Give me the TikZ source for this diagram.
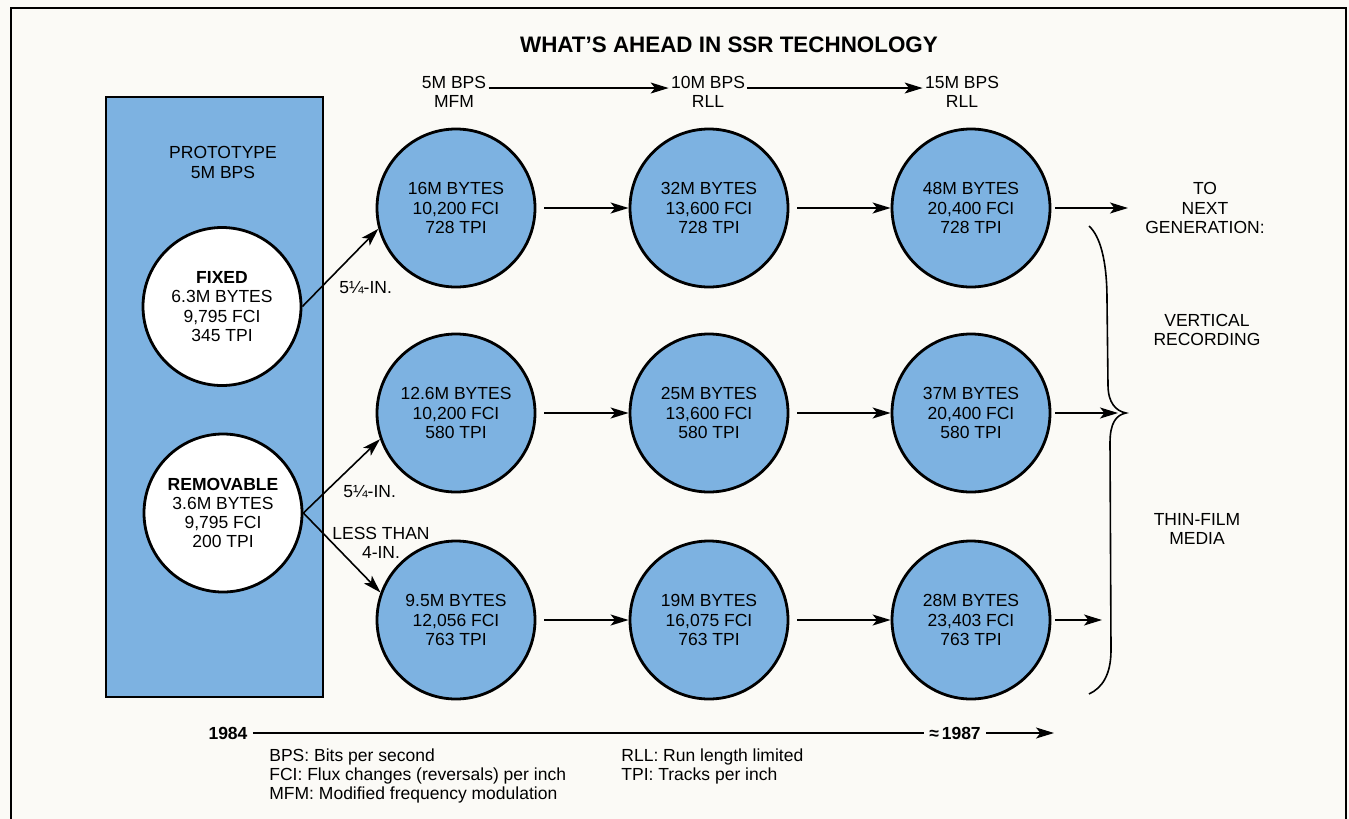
\documentclass[tikz,border=0pt]{standalone}
\usepackage{fontspec}
\setmainfont{Liberation Sans}
\usetikzlibrary{arrows.meta}
\definecolor{diskblue}{RGB}{125,178,225}
\definecolor{paper}{RGB}{251,250,246}
\begin{document}
\begin{tikzpicture}[x=0.5pt,y=-0.5pt,
  txt/.style={font=\fontsize{8.75}{9.65}\selectfont, align=center, inner sep=1pt},
  disk/.style={circle, draw, line width=1.4pt, fill=diskblue, minimum size=79pt, inner sep=0pt, txt},
  wdisk/.style={disk, fill=white},
  arr/.style={-{Stealth[length=9pt,width=5.5pt,inset=2.2pt]}, line width=0.8pt},
  boldtxt/.style={txt, font=\bfseries\fontsize{8.75}{9.65}\selectfont}]
\useasboundingbox (0,0) rectangle (1349,819);
\fill[paper] (0,0) rectangle (1349,819);
% frame
\draw[line width=1pt] (11,819) -- (11,8) -- (1346,8) -- (1346,819);
% title
\node[font=\bfseries\fontsize{11.2}{13}\selectfont] (title) at (729,45) {WHAT’S AHEAD IN SSR TECHNOLOGY};
% column headings
\node[txt] (h1) at (454,82) {5M BPS};
\node[txt] (h1b) at (454,101) {MFM};
\node[txt] (h2) at (708,82) {10M BPS};
\node[txt] (h2b) at (708,101) {RLL};
\node[txt] (h3) at (962,82) {15M BPS};
\node[txt] (h3b) at (962,101) {RLL};
\draw[arr] (h1.base east) -- (h2.base west);
\draw[arr] (h2.base east) -- (h3.base west);
% prototype box
\node[draw, fill=diskblue, line width=1pt, minimum width=108.5pt, minimum height=300pt, anchor=north west, inner sep=0pt] (proto) at (105,96) {};
\node[txt] (protolbl) at (223,162.5) {PROTOTYPE\\5M BPS};
\node[wdisk] (fixed) at (222,306.5) {\textbf{FIXED}\\6.3M BYTES\\9,795 FCI\\345 TPI};
\node[wdisk] (removable) at (223,513) {\textbf{REMOVABLE}\\3.6M BYTES\\9,795 FCI\\200 TPI};
% disks
\node[disk] (c11) at (456,208) {16M BYTES\\10,200 FCI\\728 TPI};
\node[disk] (c12) at (456,413) {12.6M BYTES\\10,200 FCI\\580 TPI};
\node[disk] (c13) at (456,620) {9.5M BYTES\\12,056 FCI\\763 TPI};
\node[disk] (c21) at (709,208) {32M BYTES\\13,600 FCI\\728 TPI};
\node[disk] (c22) at (709,413) {25M BYTES\\13,600 FCI\\580 TPI};
\node[disk] (c23) at (709,620) {19M BYTES\\16,075 FCI\\763 TPI};
\node[disk] (c31) at (971,208) {48M BYTES\\20,400 FCI\\728 TPI};
\node[disk] (c32) at (971,413) {37M BYTES\\20,400 FCI\\580 TPI};
\node[disk] (c33) at (971,620) {28M BYTES\\23,403 FCI\\763 TPI};
% horizontal arrows
\foreach \a/\b in {c11/c21,c21/c31,c12/c22,c22/c32,c13/c23,c23/c33}
  \draw[arr, shorten <=4pt] (\a.east) -- (\b.west);
% diagonal arrows
\draw[arr] (fixed.east) -- (c11.195);
\draw[arr] (removable.east) -- (c12.199);
\draw[arr] (removable.east) -- (c13.160);
\node[txt, anchor=west] (lbl1) at (337,288) {5¼-IN.};
\node[txt, anchor=west] (lbl2) at (341,492) {5¼-IN.};
\node[txt] (lbl3) at (381,543) {LESS THAN\\4-IN.};
% to next generation
\coordinate (e1) at (1128,208);
\coordinate (e2) at (1118,413);
\coordinate (e3) at (1102,620);
\draw[arr, shorten <=2pt] (c31.east) -- (e1);
\draw[arr, shorten <=2pt] (c32.east) -- (e2);
\draw[arr, shorten <=2pt] (c33.east) -- (e3);
\draw[line width=0.8pt] (1089,226) .. controls (1100,236) and (1107,260) .. (1107,300)
  -- (1108,385) .. controls (1108,403) and (1116,411) .. (1126,413)
  .. controls (1116,415) and (1110,423) .. (1110,443)
  -- (1111,650) .. controls (1111,675) and (1102,688) .. (1089,694);
\node[txt] (next) at (1205,208) {TO\\NEXT\\GENERATION:};
\node[txt] (vert) at (1207,330) {VERTICAL\\RECORDING};
\node[txt] (thin) at (1197,529) {THIN-FILM\\MEDIA};
% timeline
\node[boldtxt, inner sep=2.5pt] (y84) at (228,733) {1984};
\node[boldtxt, inner sep=2.5pt] (y87) at (955,733) {≈\,1987};
\coordinate (tend) at (1054,733);
\draw[line width=0.8pt] (y84) -- (y87);
\draw[arr] (y87) -- (tend);
% legend
\node[txt, anchor=base west] (lg1) at (267,761) {BPS: Bits per second};
\node[txt, anchor=base west] (lg2) at (267,780) {FCI: Flux changes (reversals) per inch};
\node[txt, anchor=base west] (lg3) at (267,799) {MFM: Modified frequency modulation};
\node[txt, anchor=base west] (lg4) at (619,761) {RLL: Run length limited};
\node[txt, anchor=base west] (lg5) at (619,780) {TPI: Tracks per inch};
\end{tikzpicture}
\end{document}
